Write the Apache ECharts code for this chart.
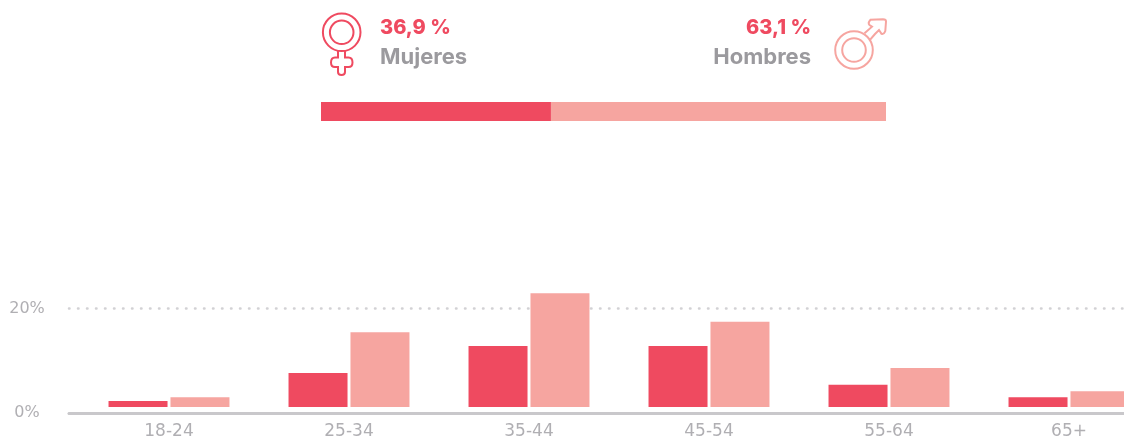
<!DOCTYPE html>
<html>
<head>
<meta charset="utf-8">
<style>
  html, body { margin: 0; padding: 0; background: #fff; overflow: hidden; }
  #chart { width: 1124px; height: 438px; }
</style>
<script src="https://cdn.jsdelivr.net/npm/echarts@6/dist/echarts.min.js"></script>
</head>
<body>
<div id="chart"></div>
<script>
const categories = ['18-24', '25-34', '35-44', '45-54', '55-64', '65+'];
const mujeres = [1.2, 6.9, 12.4, 12.4, 4.5, 2.0];
const hombres = [2.0, 15.2, 23.1, 17.3, 7.9, 3.2];
const yTicks = [0, 20];
// the split of the top bar as it is drawn in the picture
const barraMujeres = [40.7];
const barraHombres = [59.3];
const labelMujeres = 'Mujeres';
const labelHombres = 'Hombres';
const pctMujeres = '36,9 %';
const pctHombres = '63,1 %';

const ROSE = '#ef4a60';
const PINK = '#f6a5a0';
const GREY = '#b0afb3';
const FONT = 'Inter';
const TICK_FONT = 'DejaVu Sans';

// icon outlines
echarts.graphic.registerShape('stemMujer', echarts.graphic.extendPath(
  'M338 51 L338 57.5 L335 57.5 Q331 57.5 331 62.5 Q331 67 335 67 L338 67 L338 72 Q338 75 341.5 75 Q345 75 345 72 L345 67 L348.5 67 Q352.5 67 352.5 62.5 Q352.5 57.5 348.5 57.5 L345 57.5 L345 51',
  {}
));
echarts.graphic.registerShape('flechaHombre', echarts.graphic.extendPath(
  'M864.5 33.3 L872 26.7 L869.5 25 Q867.5 23 870.5 19.8 L883 19.3 Q886 19.3 886 21.5 L885.3 31 Q884 34.5 881.5 33.8 L879 30 L875 34 L869.3 40.7',
  {}
));

const myChart = echarts.init(document.getElementById('chart'));

const option = {
  animation: false,
  backgroundColor: '#fff',
  grid: [
    // bars, the last group runs past the right edge
    { left: 79, width: 1080, top: 283.9, height: 123.1, outerBoundsMode: 'none' },
    // axis line, dotted line and y labels
    { left: 69, width: 1055, top: 308.5, height: 104.5, outerBoundsMode: 'none' },
    // top bar
    { left: 321, width: 565, top: 102, height: 19, outerBoundsMode: 'none' },
  ],
  xAxis: [
    {
      gridIndex: 0,
      type: 'category',
      data: categories,
      axisLine: { show: false },
      axisTick: { show: false },
      axisLabel: { show: true, margin: 16, fontFamily: TICK_FONT, fontSize: 17, color: GREY, interval: 0 },
    },
    {
      gridIndex: 1,
      type: 'category',
      data: categories,
      axisLine: { show: true, lineStyle: { color: '#c9c8cb', width: 3 } },
      axisTick: { show: false },
      axisLabel: { show: false },
    },
    { gridIndex: 2, type: 'value', min: 0, max: 100, show: false },
  ],
  yAxis: [
    { gridIndex: 0, type: 'value', min: 0, max: 25, show: false },
    {
      gridIndex: 1,
      type: 'value',
      min: yTicks[0],
      max: yTicks[1],
      interval: yTicks[1],
      axisLine: { show: false },
      axisTick: { show: false },
      axisLabel: {
        margin: 42,
        align: 'center',
        fontFamily: TICK_FONT,
        fontSize: 16,
        color: GREY,
        formatter: '{value}%',
      },
      splitLine: {
        show: true,
        lineStyle: { color: '#d2d1d4', width: 2.5, type: [0.5, 8.5], cap: 'round' },
      },
    },
    { gridIndex: 2, type: 'category', data: ['genero'], show: false },
  ],
  series: [
    {
      name: labelMujeres,
      type: 'bar',
      xAxisIndex: 0,
      yAxisIndex: 0,
      data: mujeres,
      barWidth: 59,
      barGap: '5%',
      itemStyle: { color: ROSE },
    },
    {
      name: labelHombres,
      type: 'bar',
      xAxisIndex: 0,
      yAxisIndex: 0,
      data: hombres,
      barWidth: 59,
      barGap: '5%',
      itemStyle: { color: PINK },
    },
    {
      name: 'barraMujeres',
      type: 'bar',
      xAxisIndex: 2,
      yAxisIndex: 2,
      stack: 'genero',
      data: barraMujeres,
      barWidth: 19,
      itemStyle: { color: ROSE },
    },
    {
      name: 'barraHombres',
      type: 'bar',
      xAxisIndex: 2,
      yAxisIndex: 2,
      stack: 'genero',
      data: barraHombres,
      barWidth: 19,
      itemStyle: { color: PINK },
    },
  ],
  graphic: [
    { type: 'text', left: 380, top: 18, style: { text: pctMujeres, fontFamily: FONT, fontWeight: 800, fontSize: 20, fill: ROSE } },
    { type: 'text', left: 380, top: 46, style: { text: labelMujeres, fontFamily: FONT, fontWeight: 700, fontSize: 22, fill: '#9b9a9e' } },
    { type: 'text', right: 313, top: 18, style: { text: pctHombres, fontFamily: FONT, fontWeight: 800, fontSize: 20, fill: ROSE } },
    { type: 'text', right: 313, top: 46, style: { text: labelHombres, fontFamily: FONT, fontWeight: 700, fontSize: 22, fill: '#9b9a9e' } },
    // female icon
    { type: 'circle', shape: { cx: 341.7, cy: 32.3, r: 18.8 }, style: { fill: 'none', stroke: ROSE, lineWidth: 2 } },
    { type: 'circle', shape: { cx: 341.7, cy: 32.3, r: 11.8 }, style: { fill: 'none', stroke: ROSE, lineWidth: 2 } },
    { type: 'stemMujer', style: { fill: 'none', stroke: ROSE, lineWidth: 2 } },
    // male icon
    { type: 'circle', shape: { cx: 854, cy: 50, r: 18.8 }, style: { fill: 'none', stroke: PINK, lineWidth: 2 } },
    { type: 'circle', shape: { cx: 854, cy: 50, r: 11.8 }, style: { fill: 'none', stroke: PINK, lineWidth: 2 } },
    { type: 'flechaHombre', style: { fill: 'none', stroke: PINK, lineWidth: 2 } },
  ],
};

myChart.setOption(option);
</script>
</body>
</html>
